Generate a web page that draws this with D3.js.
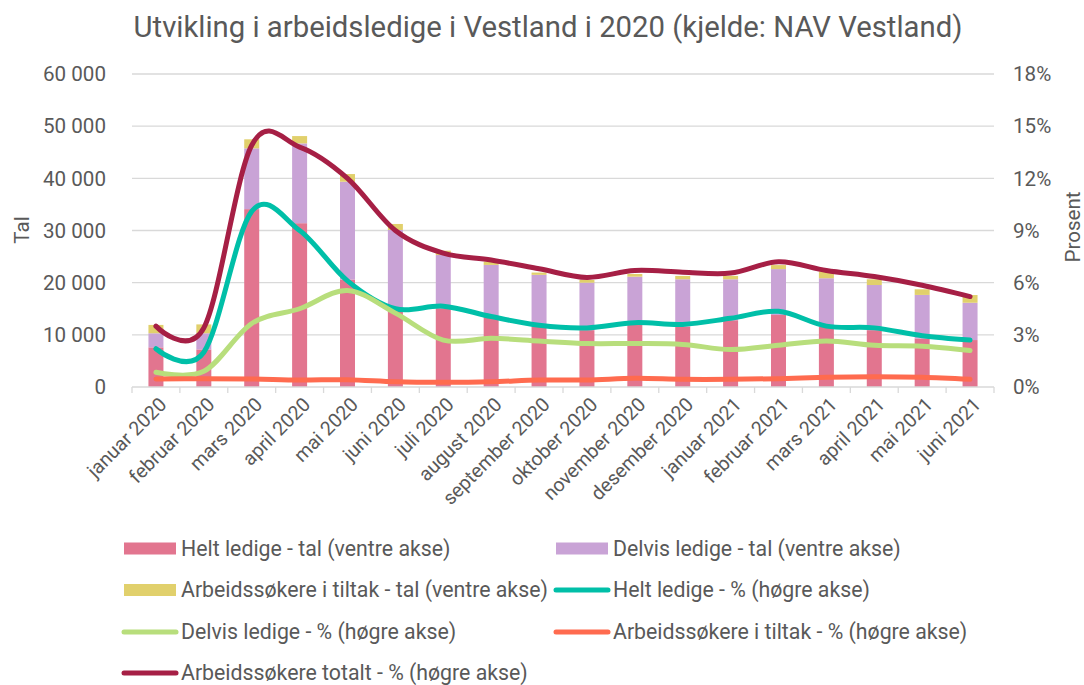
<!DOCTYPE html>
<html><head><meta charset="utf-8">
<script src="https://cdn.jsdelivr.net/npm/d3@7"></script>
<style>body{margin:0;background:#fff}svg{display:block}text{font-family:Roboto,"Noto Sans",sans-serif;fill:#595959}</style>
</head><body><svg id="c" width="1084" height="685"></svg>
<script>
const categories = ["januar 2020","februar 2020","mars 2020","april 2020","mai 2020","juni 2020","juli 2020","august 2020","september 2020","oktober 2020","november 2020","desember 2020","januar 2021","februar 2021","mars 2021","april 2021","mai 2021","juni 2021"];
const heltTal   = [7600,7200,34100,31400,20600,15000,15100,13500,11600,10900,11900,11600,12800,13800,11600,10900,9300,9000];
const delvisTal = [2700,3100,11650,15300,18750,15100,10200,9900,9900,9100,9250,9050,7850,8800,9250,8650,8350,7150];
const tiltakTal = [1600,1700,1730,1400,1470,1150,830,630,440,510,510,640,640,770,1270,1090,1080,1480];
const heltPct   = [2.2,2.0,10.1,9.0,6.1,4.5,4.65,4.05,3.55,3.4,3.7,3.6,3.95,4.35,3.5,3.4,2.95,2.7];
const delvisPct = [0.85,0.9,3.65,4.5,5.55,4.25,2.7,2.8,2.65,2.5,2.5,2.45,2.15,2.4,2.65,2.4,2.35,2.1];
const tiltakPct = [0.46,0.48,0.46,0.4,0.42,0.3,0.27,0.3,0.4,0.4,0.5,0.44,0.44,0.48,0.56,0.59,0.56,0.44];
const totalPct  = [3.5,3.4,13.9,13.8,12.0,9.0,7.7,7.3,6.8,6.3,6.7,6.6,6.55,7.2,6.7,6.35,5.85,5.2];
const leftTicks = [0,10000,20000,30000,40000,50000,60000];
const rightTicks = [0,3,6,9,12,15,18];

const barSeries = [
  {key:"helt", name:"Helt ledige - tal (ventre akse)", values:heltTal, color:"#e2758f"},
  {key:"delvis", name:"Delvis ledige - tal (ventre akse)", values:delvisTal, color:"#c9a3d6"},
  {key:"tiltak", name:"Arbeidssøkere i tiltak - tal (ventre akse)", values:tiltakTal, color:"#e1d06c"}
];
const lineSeries = [
  {name:"Helt ledige - % (høgre akse)", values:heltPct, color:"#00bfa8"},
  {name:"Delvis ledige - % (høgre akse)", values:delvisPct, color:"#b8de7c"},
  {name:"Arbeidssøkere i tiltak - % (høgre akse)", values:tiltakPct, color:"#ff6b4f"},
  {name:"Arbeidssøkere totalt - % (høgre akse)", values:totalPct, color:"#a61f45"}
];

const svg = d3.select("#c");
const L=132, R=994, T=74, B=387;
const pi = 0.687;
const x = d3.scaleBand().domain(categories).range([L,R]).paddingInner(pi).paddingOuter(pi/2);
const yL = d3.scaleLinear().domain([0,60000]).range([B,T]);
const yR = d3.scaleLinear().domain([0,18]).range([B,T]);
const loc = d3.formatLocale({decimal:",",thousands:" ",grouping:[3],currency:["","kr"]});
const fmt = loc.format(",d");

// title
svg.append("text").attr("x",548).attr("y",37).attr("text-anchor","middle").style("font-size","29.3px").text("Utvikling i arbeidsledige i Vestland i 2020 (kjelde: NAV Vestland)");

// grid
svg.append("g").selectAll("line").data(leftTicks.slice(1)).join("line")
  .attr("x1",L).attr("x2",R).attr("y1",d=>yL(d)).attr("y2",d=>yL(d))
  .attr("stroke","#d9d9d9").attr("stroke-width",1.3);
// left labels
svg.append("g").selectAll("text").data(leftTicks).join("text")
  .attr("x",106).attr("y",d=>yL(d)).attr("dy","0.35em").attr("text-anchor","end")
  .style("font-size","20.6px").text(d=>fmt(d));
svg.append("g").selectAll("text").data(rightTicks).join("text")
  .attr("x",1013).attr("y",d=>yR(d)).attr("dy","0.35em").attr("text-anchor","start")
  .style("font-size","20.6px").text(d=>d+"%");
svg.append("text").attr("transform","translate(29,230) rotate(-90)").attr("text-anchor","middle").style("font-size","20.6px").text("Tal");
svg.append("text").attr("transform","translate(1080,227) rotate(-90)").attr("text-anchor","middle").style("font-size","20.6px").text("Prosent");

// bars
const stackData = categories.map((c,i)=>({cat:c, helt:heltTal[i], delvis:delvisTal[i], tiltak:tiltakTal[i]}));
const stack = d3.stack().keys(barSeries.map(s=>s.key))(stackData);
svg.append("g").selectAll("g").data(stack).join("g").attr("fill",(d,i)=>barSeries[i].color)
  .selectAll("rect").data(d=>d).join("rect")
  .attr("x",d=>x(d.data.cat)).attr("width",x.bandwidth())
  .attr("y",d=>yL(d[1])).attr("height",d=>yL(d[0])-yL(d[1]));

// x axis
const step = x.step();
svg.append("line").attr("x1",L).attr("x2",R).attr("y1",B).attr("y2",B).attr("stroke","#d9d9d9").attr("stroke-width",1.3);
const bounds = categories.map(c=>x(c)-x.paddingInner()*step/2).concat([x(categories[categories.length-1])+x.bandwidth()+x.paddingInner()*step/2]);
svg.append("g").selectAll("line").data(bounds).join("line")
  .attr("x1",d=>d).attr("x2",d=>d).attr("y1",B).attr("y2",B+6).attr("stroke","#d9d9d9").attr("stroke-width",1.3);
svg.append("g").selectAll("text").data(categories).join("text")
  .attr("transform",d=>`translate(${x(d)+x.bandwidth()/2+7},${B+14}) rotate(-45)`)
  .attr("text-anchor","end").attr("dy","0.35em").style("font-size","19.5px").text(d=>d);

// lines
const line = d3.line().x((d,i)=>x(categories[i])+x.bandwidth()/2).y(d=>yR(d)).curve(d3.curveCatmullRom.alpha(0));
svg.append("g").selectAll("path").data(lineSeries).join("path")
  .attr("d",d=>line(d.values)).attr("fill","none").attr("stroke",d=>d.color)
  .attr("stroke-width",5).attr("stroke-linecap","round").attr("stroke-linejoin","round");

// legend
const legendItems = [
  {s:barSeries[0],type:"bar"},{s:barSeries[1],type:"bar"},
  {s:barSeries[2],type:"bar"},{s:lineSeries[0],type:"line"},
  {s:lineSeries[1],type:"line"},{s:lineSeries[2],type:"line"},
  {s:lineSeries[3],type:"line"}
];
const rowY = [548.5,590,632,673];
const colX = [124,556];
const lg = svg.append("g").selectAll("g").data(legendItems).join("g")
  .attr("transform",(d,i)=>`translate(${colX[i%2]},${rowY[Math.floor(i/2)]})`);
lg.filter(d=>d.type==="bar").append("rect").attr("x",0).attr("y",-6).attr("width",52).attr("height",12).attr("fill",d=>d.s.color);
lg.filter(d=>d.type==="line").append("line").attr("x1",0).attr("x2",52).attr("y1",0).attr("y2",0)
  .attr("stroke",d=>d.s.color).attr("stroke-width",5).attr("stroke-linecap","round");
lg.append("text").attr("x",57).attr("y",0).attr("dy","0.35em").style("font-size","21.3px").text(d=>d.s.name);
</script></body></html>
